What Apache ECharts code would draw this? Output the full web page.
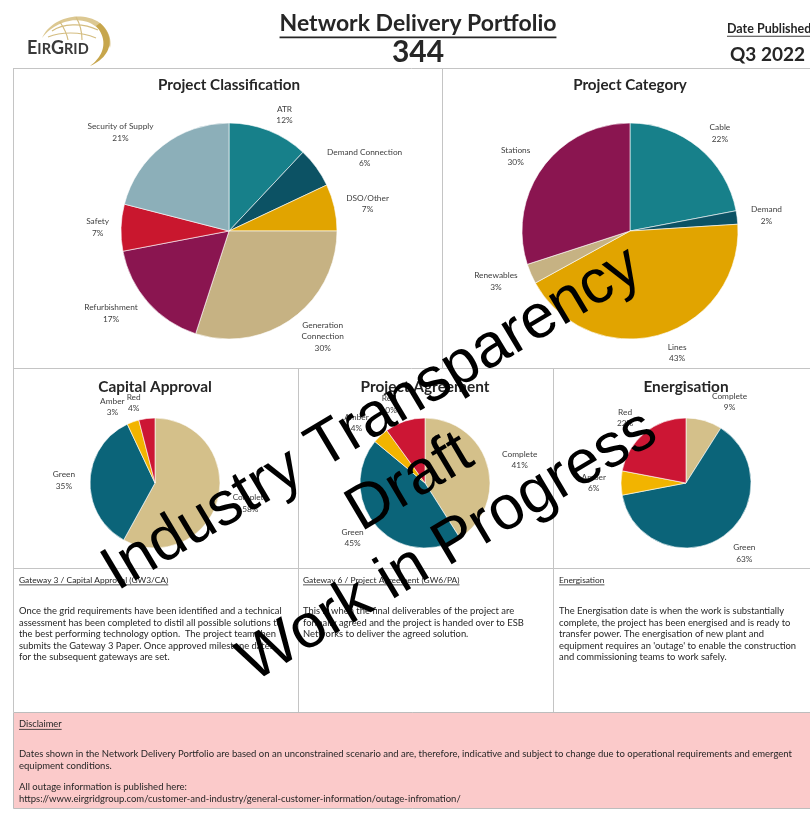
<!DOCTYPE html>
<html>
<head>
<meta charset="utf-8">
<script src="https://cdn.jsdelivr.net/npm/echarts@6/dist/echarts.min.js"></script>
<style>
  html, body { margin: 0; padding: 0; background: #ffffff; }
  #chart { width: 810px; height: 818px; }
</style>
</head>
<body>
<div id="chart"></div>
<script>
// ---- Portfolio figures (percent of projects) ----
const classificationNames = ['ATR', 'Demand Connection', 'DSO/Other', 'Generation\nConnection', 'Refurbishment', 'Safety', 'Security of Supply'];
const classificationValues = [12, 6, 7, 30, 17, 7, 21];

const categoryNames = ['Cable', 'Demand', 'Lines', 'Renewables', 'Stations'];
const categoryValues = [22, 2, 43, 3, 30];

const statusNames = ['Complete', 'Green', 'Amber', 'Red'];
const capitalApprovalValues = [58, 35, 3, 4];
const projectAgreementValues = [41, 45, 4, 10];
const energisationValues = [9, 63, 6, 22];

const portfolioCount = '344';
const publishedQuarter = 'Q3 2022';

// ---- Palette ----
const classificationColors = ['#17808a', '#0c5264', '#e1a400', '#c6b283', '#8a1550', '#c9172e', '#8cafb9'];
const categoryColors = ['#17808a', '#0c5264', '#e1a400', '#c6b283', '#8a1550'];
const statusColors = ['#d4c08a', '#0b6479', '#f2b400', '#cc1634'];

const FONT = 'Lato, "Open Sans", sans-serif';
const TEXT = '#262626';
const GRID = '#c4c4c4';

const measureCtx = document.createElement('canvas').getContext('2d');
function textWidth(text, font) { measureCtx.font = font; return measureCtx.measureText(text).width; }

// slice labels: name over percentage, each line centred
function sliceLabel(p) {
  const lines = String(p.name).split('\n').concat([p.value + '%']);
  return lines.map(l => '{n|' + l + '}').join('\n');
}

// clockwise mid-angle of each slice measured from 12 o'clock
function midAngles(values) {
  const total = values.reduce((a, b) => a + b, 0);
  let acc = 0;
  return values.map(v => { const m = (acc + v / 2) / total * 2 * Math.PI; acc += v; return m; });
}

function pieSeries(names, values, colors, center, radius, lineLen, push) {
  const mids = midAngles(values);
  return {
    type: 'pie',
    center: center,
    radius: radius,
    startAngle: 90,
    clockwise: true,
    avoidLabelOverlap: false,
    animation: false,
    silent: true,
    itemStyle: { borderColor: '#ffffff', borderWidth: 0.6 },
    label: {
      show: true,
      position: 'outside',
      formatter: sliceLabel,
      rich: {
        n: { align: 'center', fontFamily: FONT, fontSize: 8.3, lineHeight: 11.5, color: '#404040' }
      }
    },
    labelLine: { show: false, length: lineLen, length2: 0 },
    // keep the whole label block clear of the pie above and below it
    labelLayout: function (p) {
      const a = mids[p.dataIndex];
      return { dy: -Math.cos(a) * p.labelRect.height / 2 * push };
    },
    data: names.map((n, i) => ({ name: n, value: values[i], itemStyle: { color: colors[i] } }))
  };
}

function text(x, y, str, size, opts) {
  opts = opts || {};
  return {
    type: 'text', x: x, y: y, silent: true, z: 5,
    style: {
      text: str,
      fontFamily: FONT,
      fontSize: size,
      fontWeight: opts.bold ? 'bold' : 'normal',
      fill: opts.color || TEXT,
      align: opts.align || 'left',
      verticalAlign: 'middle',
      lineHeight: opts.lineHeight
    }
  };
}

function line(x1, y1, x2, y2, color, w) {
  return { type: 'line', silent: true, z: 3, shape: { x1, y1, x2, y2 }, style: { stroke: color || GRID, lineWidth: w || 1 } };
}

function underlined(x, y, str, size, opts) {
  opts = opts || {};
  const w = textWidth(str, (opts.bold ? 'bold ' : '') + size + 'px ' + FONT);
  const left = opts.align === 'center' ? x - w / 2 : x;
  return [text(x, y, str, size, opts), line(left, y + size * 0.58, left + w, y + size * 0.58, opts.color || TEXT, Math.max(0.8, size / 14))];
}

// sample a cubic bezier into points (for filled logo shapes)
function cubic(p0, p1, p2, p3, n) {
  const pts = [];
  for (let i = 0; i <= n; i++) {
    const t = i / n, u = 1 - t;
    pts.push([
      u * u * u * p0[0] + 3 * u * u * t * p1[0] + 3 * u * t * t * p2[0] + t * t * t * p3[0],
      u * u * u * p0[1] + 3 * u * u * t * p1[1] + 3 * u * t * t * p2[1] + t * t * t * p3[1]
    ]);
  }
  return pts;
}
function curve(x1, y1, cx1, cy1, cx2, cy2, x2, y2, color, w) {
  return { type: 'bezierCurve', silent: true, z: 4,
    shape: { x1, y1, cpx1: cx1, cpy1: cy1, cpx2: cx2, cpy2: cy2, x2, y2 },
    style: { stroke: color, lineWidth: w, fill: null } };
}

const graphics = [];

// panel frame
graphics.push(line(13, 68.5, 810, 68.5));
graphics.push(line(13.5, 68, 13.5, 712));
graphics.push(line(442.5, 68, 442.5, 368));
graphics.push(line(13, 368.5, 810, 368.5));
graphics.push(line(298.5, 368, 298.5, 712));
graphics.push(line(553.5, 368, 553.5, 712));
graphics.push(line(13, 568.5, 810, 568.5));

// disclaimer box
graphics.push({
  type: 'rect', silent: true, z: 1,
  shape: { x: 13.5, y: 712.5, width: 800, height: 96 },
  style: { fill: '#fbcaca', stroke: '#bdbdbd', lineWidth: 1 }
});

// logo: golden globe swoosh and wordmark
const swoosh = cubic([42, 38], [50, 19], [80, 9], [100, 23], 24)
  .concat(cubic([100, 23], [108, 29], [112, 39], [110, 48], 12))
  .concat(cubic([110, 48], [107, 39], [102, 31], [95, 26], 12))
  .concat(cubic([95, 26], [80, 15], [56, 20], [42, 38], 24));
graphics.push({ type: 'polygon', silent: true, z: 4, shape: { points: swoosh }, style: { fill: '#dcc892' } });
const crescent = cubic([100, 23], [115, 36], [113, 56], [90, 66], 24)
  .concat(cubic([90, 66], [105, 55], [108, 39], [96, 26], 24));
graphics.push({ type: 'polygon', silent: true, z: 4, shape: { points: crescent }, style: { fill: '#c7a64c' } });
graphics.push(curve(52, 31, 62, 24, 82, 22, 98, 30, '#d4bd80', 1.2));
graphics.push(curve(60, 22, 64, 28, 67, 34, 68, 40, '#d4bd80', 1.2));
graphics.push(curve(76, 17, 80, 24, 82, 32, 82, 40, '#d4bd80', 1.2));
graphics.push(curve(48, 37, 60, 32, 80, 31, 96, 38, '#d4bd80', 1.2));
graphics.push({
  type: 'text', x: 27, y: 48, silent: true, z: 6,
  style: {
    text: '{b|E}{s|IR}{b|G}{s|RID}',
    verticalAlign: 'middle',
    rich: {
      b: { fontFamily: FONT, fontWeight: 'bold', fontSize: 18, fill: '#3a3a3a', verticalAlign: 'bottom' },
      s: { fontFamily: FONT, fontWeight: 'bold', fontSize: 14.5, fill: '#3a3a3a', verticalAlign: 'bottom' }
    }
  }
});

// header
graphics.push(...underlined(418, 24, 'Network Delivery Portfolio', 23, { bold: true, align: 'center' }));
graphics.push(text(418, 52, portfolioCount, 30, { bold: true, align: 'center' }));
graphics.push(...underlined(727, 29, 'Date Published', 12.5, { bold: true }));
graphics.push(text(730, 55, publishedQuarter, 19, { bold: true }));

// chart titles
graphics.push(text(229, 85, 'Project Classification', 15.2, { bold: true, align: 'center' }));
graphics.push(text(630, 85, 'Project Category', 15.2, { bold: true, align: 'center' }));
graphics.push(text(155, 387, 'Capital Approval', 15.4, { bold: true, align: 'center' }));
graphics.push(text(425, 387, 'Project Agreement', 15.4, { bold: true, align: 'center' }));
graphics.push(text(686, 387, 'Energisation', 15.4, { bold: true, align: 'center' }));

// gateway notes
const headSize = 8.4;
const noteSize = 9.4;
const noteLH = 11.5;
graphics.push(...underlined(19, 580, 'Gateway 3 / Capital Approval (GW3/CA)', headSize));
graphics.push(text(19, 634, 'Once the grid requirements have been identified and a technical\nassessment has been completed to distil all possible solutions to\nthe best performing technology option.  The project team then\nsubmits the Gateway 3 Paper. Once approved milestone dates\nfor the subsequent gateways are set.', noteSize, { lineHeight: noteLH }));
graphics.push(...underlined(303, 580, 'Gateway 6 / Project Agreement (GW6/PA)', headSize));
graphics.push(text(303, 622.5, 'This is when the final deliverables of the project are\nformally agreed and the project is handed over to ESB\nNetworks to deliver the agreed solution.', noteSize, { lineHeight: noteLH }));
graphics.push(...underlined(559, 580, 'Energisation', headSize));
graphics.push(text(559, 634, 'The Energisation date is when the work is substantially\ncomplete, the project has been energised and is ready to\ntransfer power. The energisation of new plant and\nequipment requires an \'outage\' to enable the construction\nand commissioning teams to work safely.', noteSize, { lineHeight: noteLH }));

// disclaimer
graphics.push(...underlined(19, 724, 'Disclaimer', 9.3));
graphics.push(text(19, 760, 'Dates shown in the Network Delivery Portfolio are based on an unconstrained scenario and are, therefore, indicative and subject to change due to operational requirements and emergent\nequipment conditions.', 9.5, { lineHeight: 12.5 }));
graphics.push(text(19, 793, 'All outage information is published here:\nhttps://www.eirgridgroup.com/customer-and-industry/general-customer-information/outage-infromation/', 9.5, { lineHeight: 12 }));

// watermark
graphics.push({
  type: 'text', x: 410, y: 483, rotation: 30.8 * Math.PI / 180, silent: true, z: 100,
  style: {
    text: 'Industry Transparency\nDraft\nWork in Progress',
    fontFamily: '"Liberation Sans", Arial, sans-serif',
    fontSize: 62,
    lineHeight: 74,
    fill: '#000000',
    align: 'center',
    verticalAlign: 'middle'
  }
});

const chart = echarts.init(document.getElementById('chart'), null, { renderer: 'canvas' });
chart.setOption({
  backgroundColor: '#ffffff',
  animation: false,
  series: [
    pieSeries(classificationNames, classificationValues, classificationColors, [229, 231], 108, 7, 1),
    pieSeries(categoryNames, categoryValues, categoryColors, [630, 231], 108, 9, 1),
    pieSeries(statusNames, capitalApprovalValues, statusColors, [155, 483], 65, 10, 0.6),
    pieSeries(statusNames, projectAgreementValues, statusColors, [425, 483], 65, 10, 0.8),
    pieSeries(statusNames, energisationValues, statusColors, [686, 483], 65, 10, 1)
  ],
  graphic: graphics
});
</script>
</body>
</html>
